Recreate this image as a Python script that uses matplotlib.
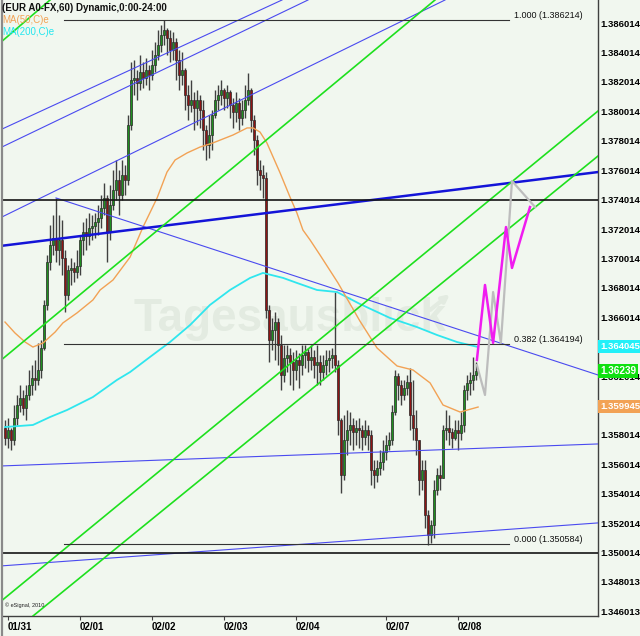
import numpy as np
import matplotlib
matplotlib.use("Agg")
import matplotlib.pyplot as plt
from matplotlib.lines import Line2D

plt.rcParams['font.family'] = ['Liberation Sans', 'DejaVu Sans']

# ------------------------------
# Hourly EUR A0-FX bars (bar index = hour since chart start)
# ------------------------------
first_open = 1.35849

close = [
    1.35781, 1.35835, 1.35767, 1.35917, 1.36005, 1.36053, 1.35985, 1.36073, 1.36141, 1.36189,
    1.36175, 1.36243, 1.36393, 1.36685, 1.36977, 1.37093, 1.37141, 1.37059, 1.37127, 1.37005,
    1.36753, 1.36923, 1.36937, 1.36909, 1.36950, 1.37127, 1.37181, 1.37154, 1.37209, 1.37222,
    1.37249, 1.37277, 1.37345, 1.37413, 1.37181, 1.37365, 1.37467, 1.37535, 1.37433, 1.37569,
    1.37535, 1.37909, 1.38215, 1.38229, 1.38195, 1.38269, 1.38229, 1.38283, 1.38249, 1.38317,
    1.38385, 1.38453, 1.38521, 1.38555, 1.38501, 1.38419, 1.38473, 1.38351, 1.38249, 1.38283,
    1.38113, 1.38045, 1.38079, 1.38025, 1.38079, 1.38011, 1.37875, 1.37773, 1.37841, 1.37977,
    1.38079, 1.38113, 1.38147, 1.38093, 1.38133, 1.38045, 1.37997, 1.38059, 1.37957, 1.38011,
    1.38079, 1.38147, 1.37943, 1.37807, 1.37603, 1.37569, 1.37549, 1.36651, 1.36447, 1.36515,
    1.36569, 1.36413, 1.36209, 1.36325, 1.36345, 1.36297, 1.36243, 1.36311, 1.36277, 1.36345,
    1.36365, 1.36311, 1.36331, 1.36277, 1.36297, 1.36229, 1.36277, 1.36311, 1.36325, 1.36345,
    1.36277, 1.35903, 1.35529, 1.35767, 1.35835, 1.35869, 1.35821, 1.35849, 1.35835, 1.35787,
    1.35835, 1.35801, 1.35563, 1.35529, 1.35577, 1.35617, 1.35685, 1.35733, 1.35767, 1.35957,
    1.36202, 1.36141, 1.36073, 1.36121, 1.36161, 1.35937, 1.35849, 1.35767, 1.35495, 1.35563,
    1.35257, 1.35121, 1.35189, 1.35427, 1.35529, 1.35509, 1.35835, 1.35849, 1.35821, 1.35781,
    1.35835, 1.35815, 1.35869, 1.36107, 1.36155, 1.36175, 1.36209, 1.36239,
]

high = [
    1.35903, 1.35917, 1.35849, 1.36005, 1.36073, 1.36141, 1.36107, 1.36141, 1.36243, 1.36277,
    1.36311, 1.36427, 1.36447, 1.36719, 1.37025, 1.37229, 1.37297, 1.37413, 1.37297, 1.37263,
    1.37059, 1.36957, 1.37005, 1.36977, 1.37059, 1.37161, 1.37249, 1.37277, 1.37311, 1.37297,
    1.37311, 1.37365, 1.37433, 1.37515, 1.37433, 1.37501, 1.37603, 1.37671, 1.37603, 1.37671,
    1.37637, 1.37977, 1.38337, 1.38351, 1.38283, 1.38385, 1.38337, 1.38365, 1.38317, 1.38419,
    1.38473, 1.38555, 1.38589, 1.38621, 1.38569, 1.38555, 1.38541, 1.38501, 1.38419, 1.38405,
    1.38297, 1.38181, 1.38215, 1.38133, 1.38147, 1.38113, 1.38079, 1.37909, 1.37977, 1.38011,
    1.38147, 1.38181, 1.38215, 1.38161, 1.38181, 1.38147, 1.38093, 1.38133, 1.38093, 1.38079,
    1.38181, 1.38263, 1.38161, 1.37977, 1.37841, 1.37671, 1.37637, 1.37589, 1.36685, 1.36597,
    1.36637, 1.36597, 1.36481, 1.36413, 1.36413, 1.36393, 1.36365, 1.36379, 1.36359, 1.36413,
    1.36413, 1.36393, 1.36413, 1.36379, 1.36413, 1.36345, 1.36345, 1.36379, 1.36379, 1.36393,
    1.36773, 1.36311, 1.35917, 1.35937, 1.35971, 1.35957, 1.35917, 1.35903, 1.35917, 1.35869,
    1.35903, 1.35869, 1.35835, 1.35631, 1.35631, 1.35699, 1.35767, 1.35801, 1.35821, 1.36005,
    1.36243, 1.36223, 1.36175, 1.36175, 1.36209, 1.36257, 1.36175, 1.35971, 1.35767, 1.35631,
    1.35631, 1.35291, 1.35223, 1.35495, 1.35577, 1.35597, 1.35869, 1.35971, 1.35937, 1.35849,
    1.35903, 1.35903, 1.35957, 1.36141, 1.36209, 1.36229, 1.36331, 1.36297,
]

low = [
    1.35733, 1.35713, 1.35699, 1.35733, 1.35869, 1.35957, 1.35937, 1.35903, 1.36039, 1.36073,
    1.36107, 1.36141, 1.36189, 1.36379, 1.36651, 1.36923, 1.37025, 1.36977, 1.36957, 1.36889,
    1.36637, 1.36719, 1.36821, 1.36841, 1.36869, 1.36889, 1.37025, 1.37059, 1.37093, 1.37127,
    1.37141, 1.37161, 1.37209, 1.37297, 1.36977, 1.37127, 1.37331, 1.37399, 1.37297, 1.37399,
    1.37433, 1.37501, 1.37875, 1.38113, 1.38079, 1.38147, 1.38161, 1.38181, 1.38147, 1.38215,
    1.38269, 1.38351, 1.38405, 1.38453, 1.38385, 1.38337, 1.38351, 1.38215, 1.38147, 1.38181,
    1.38011, 1.37943, 1.37997, 1.37875, 1.37909, 1.37889, 1.37739, 1.37671, 1.37685, 1.37739,
    1.37957, 1.38011, 1.38045, 1.38011, 1.38025, 1.37957, 1.37889, 1.37929, 1.37875, 1.37909,
    1.37957, 1.38045, 1.37861, 1.37705, 1.37501, 1.37467, 1.37413, 1.36597, 1.36297, 1.36379,
    1.36311, 1.36277, 1.36107, 1.36161, 1.36229, 1.36141, 1.36107, 1.36175, 1.36121, 1.36209,
    1.36257, 1.36229, 1.36243, 1.36189, 1.36141, 1.36141, 1.36175, 1.36209, 1.36229, 1.36257,
    1.36229, 1.35801, 1.35407, 1.35495, 1.35665, 1.35733, 1.35699, 1.35733, 1.35713, 1.35699,
    1.35733, 1.35699, 1.35461, 1.35441, 1.35481, 1.35529, 1.35563, 1.35631, 1.35699, 1.35733,
    1.35937, 1.36039, 1.36005, 1.36039, 1.36073, 1.35835, 1.35767, 1.35665, 1.35393, 1.35427,
    1.35169, 1.35053, 1.35067, 1.35101, 1.35393, 1.35427, 1.35509, 1.35767, 1.35733, 1.35713,
    1.35767, 1.35699, 1.35767, 1.35821, 1.36039, 1.36073, 1.36107, 1.36175,
]

# Moving averages (bar index, value)
ma50_bar = [0, 3.3, 6.7, 9.3, 12.7, 16.7, 19.3, 24, 29.3, 31.7, 36, 41.7, 46, 50.7, 54,
            56.7, 60.7, 65, 69.3, 76, 80.7, 82.7, 85, 87.3, 91.7, 95, 97.3, 99.3, 101.7, 105,
            111, 118.3, 124, 130.7, 136, 141.7, 146, 151.7, 157.7]
ma50_val = [1.36569, 1.36495, 1.36433, 1.36399, 1.36427, 1.36501, 1.36563, 1.36631, 1.36719,
            1.36787, 1.36855, 1.37011, 1.37215, 1.37413, 1.37589, 1.37671, 1.37719, 1.37759,
            1.37787, 1.37841, 1.37889, 1.37889, 1.37861, 1.37787, 1.37583, 1.37419, 1.37311,
            1.37195, 1.37127, 1.37025, 1.36835, 1.36576, 1.36393, 1.36270, 1.36243, 1.36155,
            1.36005, 1.35957, 1.35991]

ma200_bar = [0, 9.3, 15, 20.7, 29.3, 37.3, 41.7, 48.3, 55, 61.7, 68.3, 75, 81.7, 86, 92.7,
             97.3, 104, 110.7, 118.3, 128.3, 137.3, 144, 150.7, 157.7]
ma200_val = [1.35855, 1.35869, 1.35923, 1.35971, 1.36059, 1.36175, 1.36229, 1.36331, 1.36433,
             1.36549, 1.36685, 1.36787, 1.36869, 1.36903, 1.36869, 1.36835, 1.36787, 1.36773,
             1.36692, 1.36597, 1.36535, 1.36481, 1.36433, 1.36399]

# Drawn trendlines: ((bar, price), (bar, price))
blue_thin_lines = [
    ((-1.67, 1.37875), (92.33, 1.38759)),
    ((-1.67, 1.37753), (101.0, 1.38759)),
    ((-1.67, 1.37277), (146.67, 1.38759)),
    ((17.0, 1.37413), (197.67, 1.36209)),
    ((-1.67, 1.35590), (197.67, 1.35740)),
    ((-1.67, 1.34910), (197.67, 1.35203)),
]
blue_thick_line = ((-1.67, 1.37086), (197.67, 1.37589))
green_lines = [
    ((-1.67, 1.38467), (15.0, 1.38759)),
    ((-1.67, 1.36304), (143.33, 1.38759)),
    ((-1.67, 1.34665), (197.67, 1.38004)),
    ((9.33, 1.34570), (197.67, 1.37698)),
]
black_levels = [1.37401, 1.35000]

# Fibonacci retracement
fib_levels = [1.386214, 1.364194, 1.350584]
fib_names = ["1.000", "0.382", "0.000"]
fib_start, fib_end = 19.7, 168.0

# Projected paths
magenta_bar = [157.3, 160, 162.7, 167, 169, 175]
magenta_val = [1.36311, 1.36821, 1.36427, 1.37215, 1.36937, 1.37351]
gray_bar = [157.3, 160, 162.7, 165.3, 169, 176.7]
gray_val = [1.36277, 1.36073, 1.36773, 1.36427, 1.37528, 1.37351]

day_ticks = [1, 25, 49, 73, 97, 127, 151]
day_labels = ["01/31", "02/01", "02/02", "02/03", "02/04", "02/07", "02/08"]

price_ticks = [1.386014, 1.384014, 1.382014, 1.380014, 1.378014, 1.376014, 1.374014,
               1.372014, 1.370014, 1.368014, 1.366014, 1.364014, 1.362014, 1.360014,
               1.358014, 1.356014, 1.354014, 1.352014, 1.350014, 1.348013, 1.346013]

last_ma200, last_close, last_ma50 = 1.364045, 1.36239, 1.359945

# ------------------------------
# Figure
# ------------------------------
BG = "#f1f7ef"
fig = plt.figure(figsize=(6.4, 6.36), dpi=100, facecolor=BG)
ax = fig.add_axes([3 / 640, 20 / 636, 595 / 640, 616 / 636])
ax.set_facecolor(BG)
ax.set_xlim(-0.67, 197.67)
ax.set_ylim(1.34570, 1.38759)

# watermark
ax.text(95, 1.36590, "Tagesausblick", fontsize=33, fontweight="bold", color="#e3ebe1",
        ha="center", va="center", zorder=1)
ax.annotate("", xy=(149, 1.36770), xytext=(141, 1.36640),
            arrowprops=dict(arrowstyle="-|>", color="#e3ebe1", lw=3), zorder=1)

# candles
o = np.array([first_open] + close[:-1])
c = np.array(close)
h = np.maximum(np.array(high), np.maximum(o, c))
l = np.minimum(np.array(low), np.minimum(o, c))
bars = np.arange(len(c))
up = c >= o
ax.vlines(bars, l, h, color="#404040", lw=1.0, zorder=3)
body = np.maximum(np.abs(c - o), 0.00003)
ax.bar(bars[up], body[up], bottom=o[up], width=0.8, color="#1f8f1f",
       edgecolor="#2a2a2a", lw=0.5, zorder=4)
ax.bar(bars[~up], body[~up], bottom=c[~up], width=0.8, color="#8e1414",
       edgecolor="#2a2a2a", lw=0.5, zorder=4)

# moving averages
ax.plot(ma200_bar, ma200_val, color="#2fe6ee", lw=1.3, zorder=5)
ax.plot(ma50_bar, ma50_val, color="#f2a255", lw=1.0, zorder=5)

# trendlines
for (x1, y1), (x2, y2) in blue_thin_lines:
    ax.plot([x1, x2], [y1, y2], color="#4a4af0", lw=0.8, zorder=6)
(x1, y1), (x2, y2) = blue_thick_line
ax.plot([x1, x2], [y1, y2], color="#1414d8", lw=1.8, zorder=6)
for (x1, y1), (x2, y2) in green_lines:
    ax.plot([x1, x2], [y1, y2], color="#1ee01e", lw=1.2, zorder=6)
for lev in black_levels:
    ax.axhline(lev, color="#151515", lw=1.2, zorder=6)

# fibonacci
for lev, name in zip(fib_levels, fib_names):
    ax.plot([fib_start, fib_end], [lev, lev], color="#333333", lw=0.8, zorder=6)
    ax.text(fib_end + 1.7, lev, f"{name} ({lev:.6f})", fontsize=6.5, color="#111111",
            ha="left", va="bottom", zorder=7)

# projections
ax.plot(gray_bar, gray_val, color="#bdbdbd", lw=1.6, zorder=7)
ax.plot(magenta_bar, magenta_val, color="#f01cf0", lw=1.8, zorder=8)

# axes styling
for side in ["top", "left"]:
    ax.spines[side].set_visible(False)
for side in ["right", "bottom"]:
    ax.spines[side].set_color("#404040")
    ax.spines[side].set_linewidth(1.0)

ax.yaxis.tick_right()
ax.set_yticks(price_ticks)
ax.set_yticklabels([f"{p:.6f}" for p in price_ticks])
ax.tick_params(axis="y", length=0, pad=1.5, labelsize=6.8)
for lbl in ax.get_yticklabels():
    lbl.set_fontweight("bold")

ax.set_xticks(day_ticks)
ax.set_xticklabels(day_labels)
ax.tick_params(axis="x", length=3, color="#404040", pad=1, labelsize=7)
for lbl in ax.get_xticklabels():
    lbl.set_ha("left")
    lbl.set_fontweight("bold")

# last value boxes
ytrans = ax.get_yaxis_transform()
ax.text(1.004, last_ma200, f"{last_ma200:.6f}", transform=ytrans, ha="left", va="center",
        fontsize=6.8, fontweight="bold", color="white", zorder=10, clip_on=False,
        bbox=dict(boxstyle="square,pad=0.2", fc="#22f0f8", ec="none"))
ax.text(1.004, last_close, f"{last_close:.5f}", transform=ytrans, ha="left", va="center",
        fontsize=7.2, fontweight="bold", color="white", zorder=10, clip_on=False,
        bbox=dict(boxstyle="square,pad=0.2", fc="#10e010", ec="none"))
ax.text(1.004, last_ma50, f"{last_ma50:.6f}", transform=ytrans, ha="left", va="center",
        fontsize=6.8, fontweight="bold", color="white", zorder=10, clip_on=False,
        bbox=dict(boxstyle="square,pad=0.2", fc="#f2a255", ec="none"))

# left frame bar
fig.add_artist(Line2D([1.5 / 640, 1.5 / 640], [0, 1], color="#8a8a8a", lw=1.6))

# header texts
fig.text(2 / 640, 1 - 8 / 636, "(EUR A0-FX,60) Dynamic,0:00-24:00", fontsize=7,
         fontweight="bold", va="center", ha="left", color="#111111")
fig.text(2 / 640, 1 - 20 / 636, "MA(50,C)e", fontsize=7, va="center", ha="left",
         color="#f2a255")
fig.text(2 / 640, 1 - 32 / 636, "MA(200,C)e", fontsize=7, va="center", ha="left",
         color="#22e6ee")
fig.text(5 / 640, 1 - 605 / 636, "\u00a9 eSignal, 2010", fontsize=4, va="center",
         ha="left", color="#222222")

fig.savefig("out.png", dpi=100, facecolor=BG)
